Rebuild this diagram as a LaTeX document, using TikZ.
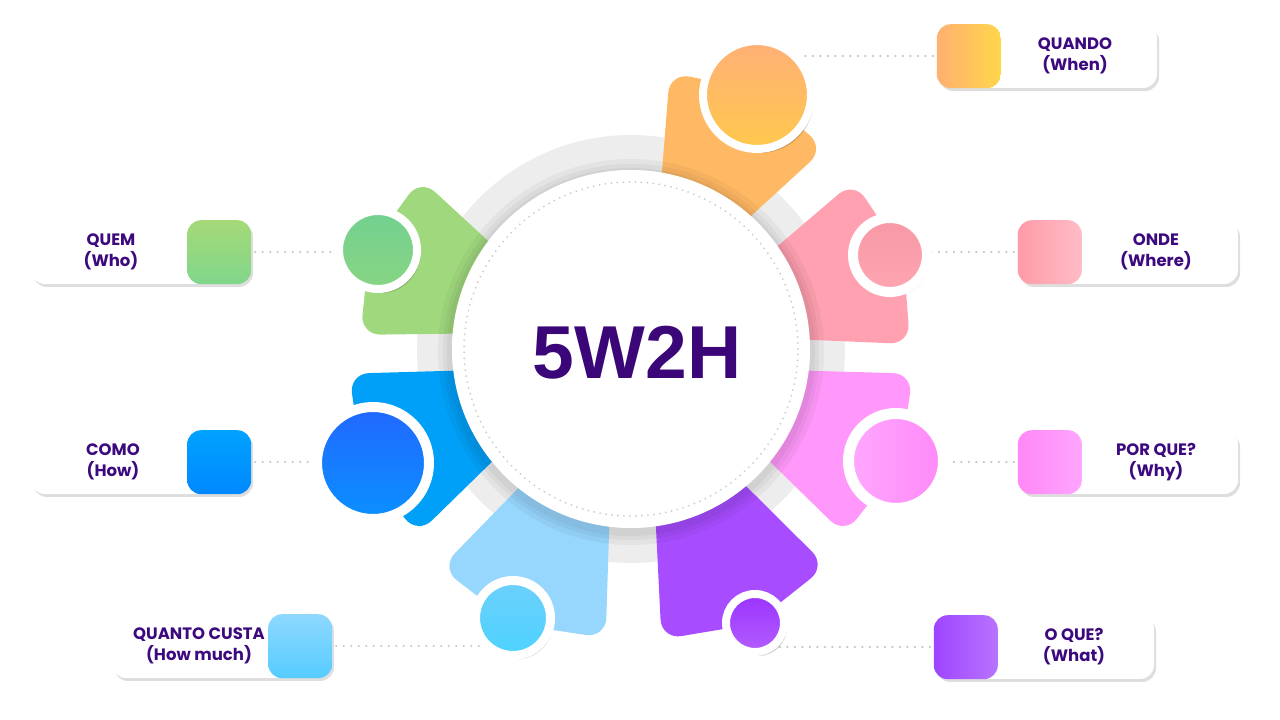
\documentclass[tikz,border=0pt]{standalone}
\usepackage{fontspec}
\setmainfont{Poppins}
\newfontfamily\titlefont{Liberation Sans}
\usetikzlibrary{shadows}

% colours
\definecolor{txt}{HTML}{3C0A7E}
\definecolor{titlecol}{HTML}{3A0678}
\definecolor{ringgray}{HTML}{EDEDED}
\definecolor{pOrange}{HTML}{FFB964}
\definecolor{pPink}{HTML}{FFA1B0}
\definecolor{pMagenta}{HTML}{FF98FA}
\definecolor{pPurple}{HTML}{A84CFF}
\definecolor{pLblue}{HTML}{97D6FD}
\definecolor{pBlue}{HTML}{00A0F8}
\definecolor{pGreen}{HTML}{A0D97D}

\tikzset{
  petal/.style={rounded corners=20pt},
  ball/.style 2 args={circle, inner sep=0pt, minimum size=#1, draw=white, line width=#2,
    drop shadow={shadow xshift=3pt, shadow yshift=-4pt, opacity=0.22, fill=black}},
  labelbox/.style={rectangle, rounded corners=14pt, fill=white, minimum width=220,
    minimum height=64, inner sep=0pt,
    drop shadow={shadow xshift=2pt, shadow yshift=-3pt, opacity=0.13, fill=black}},
  square/.style={rounded corners=14pt},
  labeltext/.style={text=txt, align=center, font=\bfseries\fontsize{16.5}{21}\selectfont},
  dotline/.style={gray!45, line width=2.4pt, line cap=round, dash pattern=on 0pt off 7.5pt},
}

\begin{document}
\begin{tikzpicture}[x=1pt, y=1pt]
  \fill[white] (0,0) rectangle (1280,720);
  \useasboundingbox (0,0) rectangle (1280,720);

  \coordinate (c) at (631,371);

  % ring and petals
  \fill[ringgray, even odd rule] (c) circle [radius=214] (c) circle [radius=179];
  \begin{scope}[shift={(c)}]
    \foreach \a/\r/\col in {64/279/pOrange, 19/279/pPink, -23/283/pMagenta, -66/292/pPurple,
                            -113/290/pLblue, -157/283/pBlue, -201/271/pGreen}
      \fill[petal, \col] ({\a-15}:150) -- ({\a-18}:\r) -- (\a:\r+9)
        -- ({\a+18}:\r) -- ({\a+15}:150) -- cycle;
  \end{scope}

  % hub
  \foreach \r in {193,188,184}
    \fill[black, opacity=0.04] ([yshift=-3]c) circle [radius=\r];
  \node[circle, fill=white, minimum size=358, inner sep=0pt] (hub) at (c) {};
  \draw[gray!40, line width=2pt, line cap=round, dash pattern=on 0pt off 6pt]
    (hub.center) circle [radius=167];
  \node[text=titlecol, font=\titlefont\bfseries\fontsize{75}{75}\selectfont]
    (title) at (637,367) {5W2H};

  % centres of the balls
  \coordinate (pq) at (757,625);
  \coordinate (po) at (890,465);
  \coordinate (pp) at (896,259);
  \coordinate (pw) at (755,97);
  \coordinate (pc) at (513,102);
  \coordinate (ph) at (373,257);
  \coordinate (pm) at (378,470);

  % label boxes
  \node[labelbox] (quando) at (1047,664) {};
  \shade[square, left color={rgb,255:red,255;green,176;blue,112}, right color={rgb,255:red,255;green,214;blue,74}]
    (quando.south west) rectangle ++(64,64);
  \node[labeltext] (quandotxt) at ([xshift=28]quando.center) {QUANDO\\(When)};

  \node[labelbox] (onde) at (1128,468) {};
  \shade[square, left color={rgb,255:red,255;green,155;blue,168}, right color={rgb,255:red,255;green,188;blue,198}]
    (onde.south west) rectangle ++(64,64);
  \node[labeltext] (ondetxt) at ([xshift=28]onde.center) {ONDE\\(Where)};

  \node[labelbox] (porque) at (1128,258) {};
  \shade[square, left color={rgb,255:red,255;green,136;blue,246}, right color={rgb,255:red,255;green,165;blue,255}]
    (porque.south west) rectangle ++(64,64);
  \node[labeltext] (porquetxt) at ([xshift=28]porque.center) {POR QUE?\\(Why)};

  \node[labelbox] (oque) at (1044,73) {};
  \shade[square, left color={rgb,255:red,158;green,69;blue,255}, right color={rgb,255:red,184;green,115;blue,255}]
    (oque.south west) rectangle ++(64,64);
  \node[labeltext] (oquetxt) at ([xshift=30]oque.center) {O QUE?\\(What)};

  \node[labelbox] (quem) at (141,468) {};
  \shade[square, shading angle=45, top color={rgb,255:red,165;green,217;blue,120}, bottom color={rgb,255:red,128;green,214;blue,138}]
    (quem.south east) rectangle ++(-64,64);
  \node[labeltext] (quemtxt) at ([xshift=-30]quem.center) {QUEM\\(Who)};

  \node[labelbox] (como) at (141,258) {};
  \shade[square, shading angle=45, top color={rgb,255:red,0;green,162;blue,255}, bottom color={rgb,255:red,0;green,136;blue,255}]
    (como.south east) rectangle ++(-64,64);
  \node[labeltext] (comotxt) at ([xshift=-28]como.center) {COMO\\(How)};

  \node[labelbox] (quanto) at (222,74) {};
  \shade[square, shading angle=-45, top color={rgb,255:red,142;green,216;blue,255}, bottom color={rgb,255:red,85;green,204;blue,255}]
    (quanto.south east) rectangle ++(-64,64);
  \node[labeltext] (quantotxt) at ([xshift=-23]quanto.center) {QUANTO CUSTA\\(How much)};

  % dotted connectors
  \draw[dotline] ([xshift=-4]quando.west) -- (quando.west -| pq);
  \draw[dotline] ([xshift=-4]onde.west) -- (onde.west -| po);
  \draw[dotline] ([xshift=-4]porque.west) -- (porque.west -| pp);
  \draw[dotline] ([xshift=-4]oque.west) -- (oque.west -| pw);
  \draw[dotline] ([xshift=4]quem.east) -- (quem.east -| pm);
  \draw[dotline] ([xshift=4]como.east) -- (como.east -| ph);
  \draw[dotline] ([xshift=4]quanto.east) -- (quanto.east -| pc);

  % balls
  \node[ball={108}{8}, top color={rgb,255:red,255;green,176;blue,119}, bottom color={rgb,255:red,255;green,200;blue,76}] (bq) at (pq) {};
  \node[ball={74}{10}, top color={rgb,255:red,247;green,152;blue,165}, bottom color={rgb,255:red,255;green,165;blue,178}] (bo) at (po) {};
  \node[ball={95}{11}, left color={rgb,255:red,255;green,168;blue,255}, right color={rgb,255:red,255;green,136;blue,248}] (bp) at (pp) {};
  \node[ball={58}{8}, top color={rgb,255:red,155;green,51;blue,255}, bottom color={rgb,255:red,179;green,93;blue,255}] (bw) at (pw) {};
  \node[ball={75}{9}, top color={rgb,255:red,108;green,208;blue,251}, bottom color={rgb,255:red,77;green,210;blue,255}] (bc) at (pc) {};
  \node[ball={112}{10}, top color={rgb,255:red,34;green,104;blue,255}, bottom color={rgb,255:red,10;green,144;blue,255}] (bh) at (ph) {};
  \node[ball={78}{8}, top color={rgb,255:red,114;green,208;blue,143}, bottom color={rgb,255:red,136;green,213;blue,132}] (bm) at (pm) {};
\end{tikzpicture}
\end{document}
